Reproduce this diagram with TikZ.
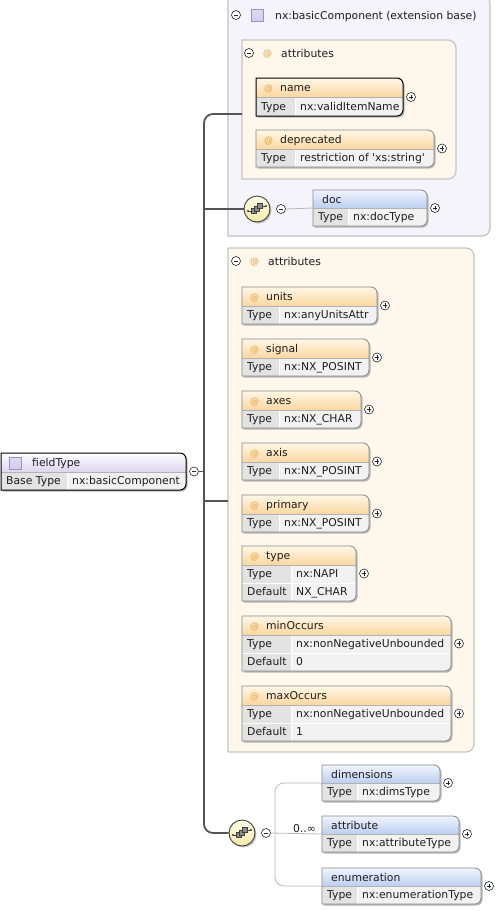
\documentclass[tikz,border=0pt]{standalone}
\usepackage{fontspec}
\setmainfont{DejaVu Sans}[Ligatures=TeXOff]
\definecolor{attrtop}{HTML}{FFF7E8}
\definecolor{attrbot}{HTML}{FBD7A0}
\definecolor{elemtop}{HTML}{F0F4FD}
\definecolor{elembot}{HTML}{BCCFF0}
\definecolor{lavbot}{HTML}{DCD6F0}
\definecolor{rowv}{HTML}{F2F2F2}
\definecolor{rowk}{HTML}{E3E3E3}
\definecolor{boxb}{HTML}{8A8A8A}
\definecolor{extf}{HTML}{F4F4FA}
\definecolor{extb}{HTML}{C2C2C8}
\definecolor{attrf}{HTML}{FDF7EC}
\definecolor{grpb}{HTML}{C6C6C6}
\definecolor{atcol}{HTML}{E5A030}
\definecolor{trunkc}{HTML}{555555}
\definecolor{brc}{HTML}{B8B8B8}
\definecolor{seqtop}{HTML}{FFFDE8}
\definecolor{seqbot}{HTML}{F2EAA8}
\definecolor{lavsq}{HTML}{D2CBEC}
\definecolor{lavsqb}{HTML}{9A92C4}
\definecolor{txtc}{HTML}{1E1E1E}
\tikzset{
  rpath/.style n args={5}{insert path={(#1,#2) -- (#3-#5,#2) .. controls (#3-0.45*#5,#2) and (#3,#2+0.45*#5) .. (#3,#2+#5) -- (#3,#4-#5) .. controls (#3,#4-0.45*#5) and (#3-0.45*#5,#4) .. (#3-#5,#4) -- (#1,#4) -- cycle}},
  plusc/.style={circle, draw=black!85, fill=white, line width=0.6pt, minimum size=9pt, inner sep=0pt,
    path picture={\draw[black!85, line width=0.7pt] ([xshift=-2.3pt]path picture bounding box.center) -- ([xshift=2.3pt]path picture bounding box.center) ([yshift=-2.3pt]path picture bounding box.center) -- ([yshift=2.3pt]path picture bounding box.center);}},
  minusc/.style={circle, draw=black!85, fill=white, line width=0.6pt, minimum size=9pt, inner sep=0pt,
    path picture={\draw[black!85, line width=0.7pt] ([xshift=-2.3pt]path picture bounding box.center) -- ([xshift=2.3pt]path picture bounding box.center);}},
  txt/.style={inner sep=0pt, anchor=base west, text=txtc},
  atsym/.style={inner sep=0pt, anchor=base west, text=atcol, font=\fontsize{9}{10}\selectfont},
  attrhead/.style={top color=attrtop, bottom color=attrbot},
  elemhead/.style={top color=elemtop, bottom color=elembot},
  lavhead/.style={top color=white, bottom color=lavbot},
  bx/.style={draw=boxb, line width=0.8pt},
  bxsel/.style={draw=black, line width=1pt},
  boxshadow/.style={fill=black!28},
  trunk/.style={draw=trunkc, line width=1.8pt},
  branch/.style={draw=brc, line width=0.8pt},
  seqc/.style={circle, minimum size=26pt, inner sep=0pt, draw=black!75, line width=0.9pt, top color=seqtop, bottom color=seqbot},
}
% #1 name #2 x1 #3 y1 #4 x2 #5 y2 #6 yh #7 head #8 border #9 content
\newcommand\xbox[9]{%
  \fill[boxshadow, rpath={#2+1.5}{#3+1.5}{#4+1.5}{#5+1.5}{6}];
  \begin{scope}
    \clip[rpath={#2}{#3}{#4}{#5}{6}];
    \fill[rowv] (#2,#3) rectangle (#4,#5);
    \shade[#7] (#2,#3) rectangle (#4,#6);
    #9
    \draw[black!30, line width=0.6pt] (#2,#6) -- (#4,#6);
  \end{scope}
  \draw[#8, rpath={#2}{#3}{#4}{#5}{6}];
  \node[inner sep=0pt, outer sep=0pt, minimum width={(#4-#2)*1pt}, minimum height={(#5-#3)*1pt}] (#1) at ({(#2+#4)/2},{(#3+#5)/2}) {};
}
\newcommand\xplus[1]{\node[plusc] (#1-plus) at ([xshift=8pt]#1.east) {};}
% #1 id #2 x1 #3 ya #4 yb #5 xdiv #6 key #7 value
\newcommand\xrow[7]{%
  \fill[rowk] (#2,#3) rectangle (#5,#4);
  \draw[white, line width=0.8pt] (#5,#3) -- (#5,#4);
  \node[txt] (#1-k) at (#2+5,{(#3+#4)/2+3.9}) {#6};
  \node[txt] (#1-v) at (#5+5,{(#3+#4)/2+3.9}) {#7};
}
\newcommand\xattrtitle[3]{%
  \node[atsym] (#1-at) at (#2+8,#3+13.3) {@};
  \node[txt] (#1-t) at (#2+24,#3+13.5) {#1};
}
\newcommand\xelemtitle[3]{\node[txt] (#1-t) at (#2+9,#3+13) {#1};}
% name x1 y1 x2 value div
\newcommand\attrbox[6]{%
  \xbox{#1}{#2}{#3}{#4}{#3+37}{#3+19}{attrhead}{bx}{\xattrtitle{#1}{#2}{#3}\xrow{#1-r}{#2}{#3+19}{#3+37}{#2+#6}{Type}{#5}}\xplus{#1}}
% name x1 y1 x2 type default
\newcommand\attrboxiii[6]{%
  \xbox{#1}{#2}{#3}{#4}{#3+55}{#3+19}{attrhead}{bx}{\xattrtitle{#1}{#2}{#3}%
    \xrow{#1-r1}{#2}{#3+19}{#3+37}{#2+49}{Type}{#5}%
    \xrow{#1-r2}{#2}{#3+37}{#3+55}{#2+49}{Default}{#6}%
    \draw[white, line width=0.8pt] (#2,#3+37) -- (#4,#3+37);}\xplus{#1}}
% name x1 y1 x2 value
\newcommand\elembox[5]{%
  \xbox{#1}{#2}{#3}{#4}{#3+36}{#3+18}{elemhead}{bx}{\xelemtitle{#1}{#2}{#3}\xrow{#1-r}{#2}{#3+18}{#3+36}{#2+35}{Type}{#5}}\xplus{#1}}
\newcommand\seqicon[3]{%
  \draw[black!75, line width=0.7pt] (#2-9,#3+2) -- (#2-5,#3+2) (#2+5,#3-3) -- (#2+9,#3-3);
  \fill[black!75] (#2-9,#3+2) circle (1.2pt) (#2+9,#3-3) circle (1.2pt);
  \draw[black!75, fill=black!45, line width=0.6pt] (#2-6,#3-0.5) rectangle (#2-1,#3+4.5);
  \draw[black!75, fill=black!45, line width=0.6pt] (#2-3,#3-3) rectangle (#2+2,#3+2);
  \draw[black!75, fill=black!45, line width=0.6pt] (#2,#3-5.5) rectangle (#2+5,#3-0.5);
}
\begin{document}
\begin{tikzpicture}[x=1pt,y=-1pt, font=\fontsize{10.8}{12}\selectfont]
\useasboundingbox (0,0) rectangle (498,911);
\fill[white] (0,0) rectangle (498,911);

% extension base frame
\draw[draw=extb, fill=extf, line width=1.2pt, rpath={228}{-5}{490}{236}{8}];
\node[minusc] (ext-m) at (236,15) {};
\draw[draw=lavsqb, top color=white!30!lavsq, bottom color=lavsq, line width=0.6pt] (251,9) rectangle (263,21);
\node[txt] (ext-t) at (275,19) {nx:basicComponent (extension base)};
\shade[left color=extf, middle color=black!22, right color=extf] (230,28.5) rectangle (430,30);

% attributes group A
\draw[draw=grpb, fill=attrf, line width=1.2pt, rpath={242}{40}{456}{179}{8}];
\node[inner sep=0pt, minimum width=214pt, minimum height=139pt] (grpA) at (349,109.5) {};
\node[minusc] (grpA-m) at (249,53) {};
\node[atsym] (grpA-at) at (263,56.5) {@};
\node[txt] (grpA-t) at (281,57) {attributes};
\shade[left color=attrf, middle color=black!18, right color=attrf] (244,65.5) rectangle (410,67);

\xbox{name}{256}{78}{403}{116}{97}{attrhead}{bxsel}{\xattrtitle{name}{256}{78}\xrow{name-r}{256}{97}{116}{295}{Type}{nx:validItemName}}
\xplus{name}
\attrbox{deprecated}{256}{130}{434}{restriction of 'xs:string'}{39}

% sequence A
\fill[black!25] (258.5,210.5) circle (13pt);
\node[seqc] (seqA) at (257,209) {};
\seqicon{seqA}{257}{209}
\node[minusc] (smA) at (281,209) {};
\elembox{doc}{313}{190}{427}{nx:docType}
\draw[branch] (smA.east) -- (doc.west);

% attributes group B
\draw[draw=grpb, fill=attrf, line width=1.2pt, rpath={228}{248}{474}{752}{8}];
\node[inner sep=0pt, minimum width=246pt, minimum height=504pt] (grpB) at (351,501) {};
\node[minusc] (grpB-m) at (236,261) {};
\node[atsym] (grpB-at) at (250,264.5) {@};
\node[txt] (grpB-t) at (268,265) {attributes};
\shade[left color=attrf, middle color=black!18, right color=attrf] (230,273.5) rectangle (420,275);

\attrbox{units}{242}{287}{377}{nx:anyUnitsAttr}{37}
\attrbox{signal}{242}{339}{369}{nx:NX\_POSINT}{37}
\attrbox{axes}{242}{391}{361}{nx:NX\_CHAR}{37}
\attrbox{axis}{242}{443}{369}{nx:NX\_POSINT}{37}
\attrbox{primary}{242}{495}{369}{nx:NX\_POSINT}{37}
\attrboxiii{type}{242}{546}{356}{nx:NAPI}{NX\_CHAR}
\attrboxiii{minOccurs}{242}{616}{451}{nx:nonNegativeUnbounded}{0}
\attrboxiii{maxOccurs}{242}{686}{451}{nx:nonNegativeUnbounded}{1}

% fieldType
\xbox{fieldType}{1}{453}{186}{490}{472}{lavhead}{bxsel}{%
  \draw[draw=lavsqb, top color=white!30!lavsq, bottom color=lavsq, line width=0.6pt] (9,457) rectangle (21,469);
  \node[txt] (fieldType-t) at (32,466.5) {fieldType};
  \xrow{fieldType-r}{1}{472}{490}{67}{Base Type}{nx:basicComponent}}
\node[minusc] (fmin) at ([xshift=8pt]fieldType.east) {};

% sequence B
\fill[black!25] (243.5,834.5) circle (13pt);
\node[seqc] (seqB) at (242,833) {};
\seqicon{seqB}{242}{833}
\node[minusc] (smB) at (266,833) {};
\elembox{dimensions}{322}{765}{440}{nx:dimsType}
\elembox{attribute}{322}{816}{459}{nx:attributeType}
\elembox{enumeration}{322}{868}{481}{nx:enumerationType}
\node[txt, anchor=base east] (occ) at (316,832) {0..∞};

% connectors
\coordinate (tTop) at (204,114);
\coordinate (tBot) at (204,833);
\coordinate (bv) at (275,833);
\draw[trunk, rounded corners=9pt] (grpA.west |- tTop) -- (tTop) -- (tBot) -- (seqB.west);
\draw[trunk] (fmin.east) -- (fmin.east -| tTop);
\draw[trunk] (tTop |- seqA.west) -- (seqA.west);
\draw[trunk] (tTop |- grpB.west) -- (grpB.west);
\draw[branch] (smB.east) -- (attribute.west);
\draw[branch, rounded corners=9pt] (dimensions.west) -- (dimensions.west -| bv) -- (enumeration.west -| bv) -- (enumeration.west);
\end{tikzpicture}
\end{document}
